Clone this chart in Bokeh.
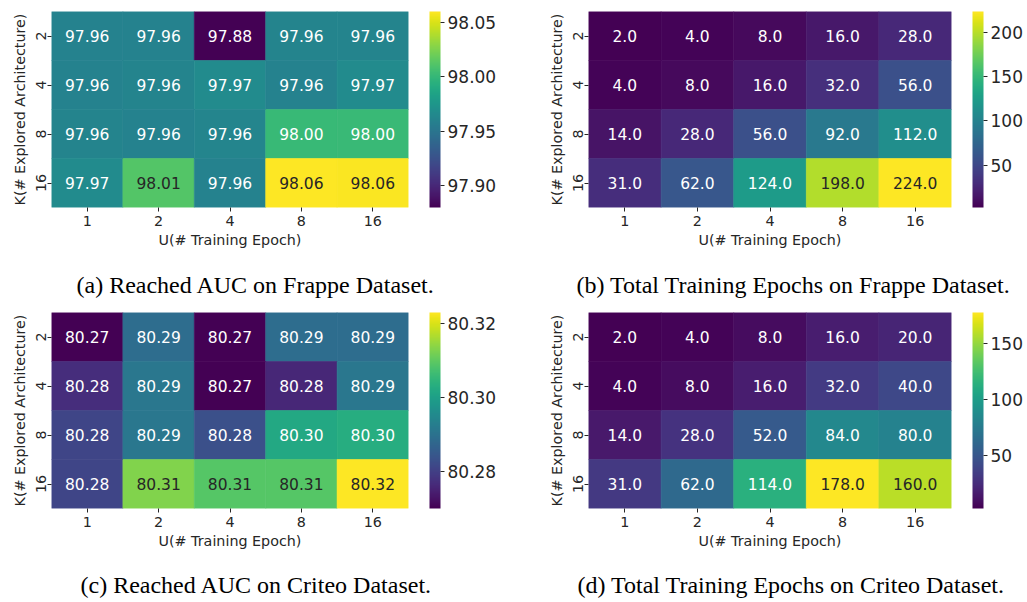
from bokeh.plotting import figure
from bokeh.models import (LinearColorMapper, ColorBar, FixedTicker, ColumnDataSource,
                          FactorRange, Title, PrintfTickFormatter, CategoricalAxis)
from bokeh.palettes import Viridis256
from bokeh.layouts import column, row
from bokeh.embed import file_html
from bokeh.resources import INLINE
from bokeh.core.properties import value

# ---------------- data ----------------
U_LABELS = ["1", "2", "4", "8", "16"]          # U (# Training Epoch)
K_LABELS = ["2", "4", "8", "16"]               # K (# Explored Architecture), top -> bottom

frappe_auc = [
    [97.960, 97.960, 97.880, 97.961, 97.961],
    [97.960, 97.961, 97.967, 97.960, 97.967],
    [97.961, 97.960, 97.962, 98.001, 98.002],
    [97.967, 98.012, 97.960, 98.060, 98.059],
]
frappe_epochs = [
    [2, 4, 8, 16, 28],
    [4, 8, 16, 32, 56],
    [14, 28, 56, 92, 112],
    [31, 62, 124, 198, 224],
]
criteo_auc = [
    [80.270, 80.289, 80.270, 80.289, 80.289],
    [80.277, 80.291, 80.270, 80.276, 80.291],
    [80.281, 80.291, 80.283, 80.302, 80.303],
    [80.281, 80.313, 80.309, 80.309, 80.323],
]
criteo_epochs = [
    [2, 4, 8, 16, 20],
    [4, 8, 16, 32, 40],
    [14, 28, 52, 84, 80],
    [31, 62, 114, 178, 160],
]

frappe_auc_ticks = [97.90, 97.95, 98.00, 98.05]
frappe_epoch_ticks = [50, 100, 150, 200]
criteo_auc_ticks = [80.28, 80.30, 80.32]
criteo_epoch_ticks = [50, 100, 150]

captions = [
    "(a) Reached AUC on Frappe Dataset.",
    "(b) Total Training Epochs on Frappe Dataset.",
    "(c) Reached AUC on Criteo Dataset.",
    "(d) Total Training Epochs on Criteo Dataset.",
]

SANS = "DejaVu Sans"
SERIF = "Liberation Serif"


def rel_lum(hexcol):
    h = hexcol.lstrip("#")
    rgb = [int(h[i:i + 2], 16) / 255 for i in (0, 2, 4)]
    lin = [c / 12.92 if c <= 0.03928 else ((c + 0.055) / 1.055) ** 2.4 for c in rgb]
    return 0.2126 * lin[0] + 0.7152 * lin[1] + 0.0722 * lin[2]


def spacer_axis(size):
    # an invisible axis used only to reserve `size` pixels in a side panel
    return CategoricalAxis(major_tick_out=size, major_tick_in=0,
                           axis_line_color=None, major_tick_line_color=None,
                           major_label_standoff=0, major_label_text_font_size="0px",
                           major_label_text_color=None)


def make_panel(values, fmt, ticks, tick_fmt, caption, width, height,
               b_left, b_top, frame_w, frame_h, cap_offset, cap_gap):
    flat = [v for r in values for v in r]
    vmin, vmax = min(flat), max(flat)
    mapper = LinearColorMapper(palette=Viridis256, low=vmin, high=vmax)
    xs, ys, vs, labels, tcs = [], [], [], [], []
    for i, k in enumerate(K_LABELS):
        for j, u in enumerate(U_LABELS):
            v = values[i][j]
            idx = int((v - vmin) / (vmax - vmin) * 256)
            idx = max(0, min(255, idx))
            col = Viridis256[idx]
            xs.append(u)
            ys.append(k)
            vs.append(v)
            labels.append(fmt.format(v))
            tcs.append("#262626" if rel_lum(col) > 0.408 else "#ffffff")
    src = ColumnDataSource(dict(U=xs, K=ys, val=vs, label=labels, tc=tcs))

    p = figure(x_range=FactorRange(*U_LABELS), y_range=FactorRange(*K_LABELS[::-1]),
               width=width, height=height, output_backend="svg", toolbar_location=None,
               min_border_left=b_left, min_border_top=b_top,
               min_border_right=width - b_left - frame_w,
               min_border_bottom=height - b_top - frame_h)
    p.x_range.range_padding = 0
    p.y_range.range_padding = 0
    p.rect(x="U", y="K", width=1, height=1, source=src,
           fill_color={"field": "val", "transform": mapper},
           line_color={"field": "val", "transform": mapper}, line_width=0.6)
    p.text(x="U", y="K", text="label", source=src, text_color="tc",
           text_align="center", text_baseline="middle",
           text_font=value(SANS), text_font_size="15.5px")

    p.outline_line_color = None
    p.grid.visible = False
    p.xaxis.axis_label = "U(# Training Epoch)"
    p.yaxis.axis_label = "K(# Explored Architecture)"
    for ax in (p.xaxis[0], p.yaxis[0]):
        ax.axis_line_color = None
        ax.major_tick_in = 0
        ax.major_tick_out = 4
        ax.major_tick_line_color = "#262626"
        ax.major_label_text_font = SANS
        ax.major_label_text_font_size = "14.3px"
        ax.major_label_text_color = "#262626"
        ax.axis_label_text_font = SANS
        ax.axis_label_text_font_size = "14.3px"
        ax.axis_label_text_font_style = "normal"
        ax.axis_label_text_color = "#262626"
        ax.major_label_standoff = 4
        ax.axis_label_standoff = 3
    p.yaxis.major_label_orientation = "vertical"
    p.yaxis.major_label_standoff = 2
    p.yaxis.axis_label_standoff = 5

    # gap between the heatmap and its colour bar
    p.add_layout(spacer_axis(21), "right")

    cb = ColorBar(color_mapper=mapper, ticker=FixedTicker(ticks=ticks),
                  formatter=PrintfTickFormatter(format=tick_fmt),
                  width=11, margin=0, padding=0, bar_line_color=None,
                  major_tick_in=0, major_tick_out=4, major_tick_line_color="#262626",
                  major_label_text_font=SANS, major_label_text_font_size="17px",
                  major_label_text_color="#262626", label_standoff=3,
                  border_line_color=None, background_fill_color=None)
    p.add_layout(cb, "right")

    # gap between the x-axis title and the sub-figure caption
    p.add_layout(spacer_axis(cap_gap), "below")
    t = Title(text=caption, align="left", offset=cap_offset, standoff=0,
              vertical_align="bottom",
              text_font=SERIF, text_font_size="24px", text_font_style="normal",
              text_color="black")
    p.add_layout(t, "below")
    return p


pa = make_panel(frappe_auc, "{:.2f}", frappe_auc_ticks, "%.2f", captions[0],
                538, 300, 51, 11, 357, 196, 25, 19)
pb = make_panel(frappe_epochs, "{:.1f}", frappe_epoch_ticks, "%d", captions[1],
                489, 300, 50, 11, 363, 196, -12, 19)
pc = make_panel(criteo_auc, "{:.2f}", criteo_auc_ticks, "%.2f", captions[2],
                538, 302, 51, 12, 357, 196, 29, 18)
pd = make_panel(criteo_epochs, "{:.1f}", criteo_epoch_ticks, "%d", captions[3],
                489, 302, 50, 12, 363, 196, -11, 18)

layout = column(row(pa, pb), row(pc, pd))
open("out.html", "w").write(file_html(layout, INLINE))
